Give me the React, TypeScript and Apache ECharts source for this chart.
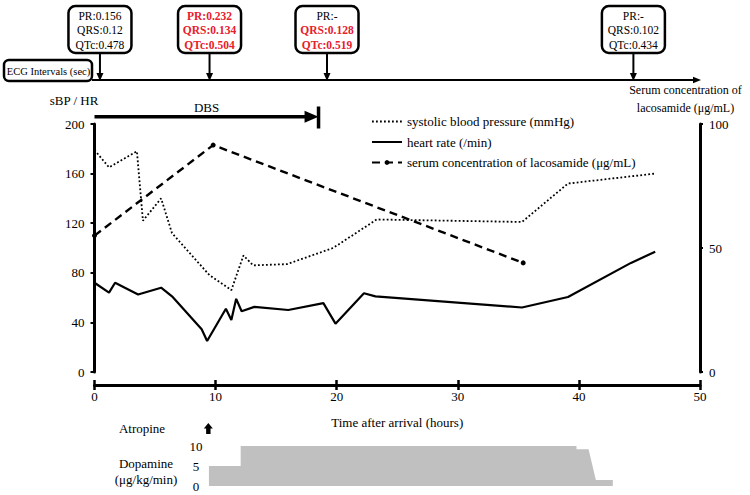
import React, { useEffect, useRef } from "react";
import * as echarts from "echarts";

// ---- data ----
const sbpHours = [0, 1.2, 3.5, 4.0, 5.5, 6.4, 9.5, 11.3, 12.3, 13.1, 15.9, 19.7, 23.3, 35.3, 39.1, 46.3];
const sbpValues = [179, 165, 178, 122, 140, 112, 78, 66, 94, 86, 87, 100, 123, 121, 152, 160];

const hrHours = [0, 1.2, 1.7, 3.6, 5.5, 6.4, 8.85, 9.3, 10.85, 11.3, 11.7, 12.15, 13.2, 16, 18.9, 19.9, 22.25, 23.2, 35.3, 39.1, 44.3, 46.3];
const hrValues = [72, 64, 72, 62.5, 68, 61, 34.5, 25, 51, 42, 59, 49, 52.5, 50, 55.5, 39, 63.5, 61, 52, 60.5, 88, 97];

const lcmHours = [0, 9.8, 35.4];
const lcmValues = [55, 91.5, 44];

const dopHours = [9.45, 12.07, 12.07, 39.8, 39.8, 40.8, 41.4, 42.8];
const dopValues = [5, 5, 10, 10, 9.2, 9.2, 1.5, 1.5];

const ecgHours = [0.45, 9.5, 19.2, 44.5];
const ecgPR = ["PR:0.156", "PR:0.232", "PR:-", "PR:-"];
const ecgQRS = ["QRS:0.12", "QRS:0.134", "QRS:0.128", "QRS:0.102"];
const ecgQTc = ["QTc:0.478", "QTc:0.504", "QTc:0.519", "QTc:0.434"];
const ecgPRRed = [false, true, false, false];
const ecgQRSRed = [false, true, true, false];
const ecgQTcRed = [false, true, true, false];

const dbsStart = 0;
const dbsEnd = 18.5;
const atropineHour = 9.4;

const xTicks = { min: 0, max: 50, interval: 10 };
const leftTicks = { min: 0, max: 200, interval: 40 };
const rightTicks = { min: 0, max: 100, interval: 50 };
const dopTicks = { min: 0, max: 10, interval: 5 };

const zip = (a: number[], b: number[]) => a.map((v, i) => [v, b[i]]);

const FONT = "'Liberation Serif', 'Times New Roman', 'DejaVu Serif', serif";
const RED = "#e8202a";

export default function App() {
  const ref = useRef<HTMLDivElement>(null);
  useEffect(() => {
    const el = ref.current!;
    const chart = echarts.init(el, null, { renderer: "svg" });
    const txt = { fontFamily: FONT, fontSize: 13, color: "#000" };
    const option: any = {
      animation: false,
      textStyle: { fontFamily: FONT },
      grid: [
        { left: 94.5, right: 50, top: 124, bottom: 123, outerBoundsMode: "none", containLabel: false },
        { left: 94.5, right: 50, top: 446, bottom: 9, outerBoundsMode: "none", containLabel: false },
      ],
      legend: {
        orient: "vertical",
        left: 366,
        top: 110,
        itemWidth: 30,
        itemHeight: 6,
        itemGap: 7.5,
        textStyle: { ...txt },
        data: [
          { name: "systolic blood pressure (mmHg)", itemStyle: { opacity: 0 } },
          { name: "heart rate (/min)", itemStyle: { opacity: 0 } },
          { name: "serum concentration of lacosamide (μg/mL)" },
        ],
      },
      xAxis: [
        {
          gridIndex: 0,
          type: "value",
          ...xTicks,
          position: "bottom",
          offset: 13,
          axisLine: { show: true, onZero: false, lineStyle: { color: "#000", width: 3 } },
          axisTick: { show: true, inside: false, length: 5, lineStyle: { color: "#000", width: 2.5 } },
          axisLabel: { ...txt, margin: 5 },
          splitLine: { show: false },
          name: "Time after arrival (hours)",
          nameLocation: "middle",
          nameGap: 31,
          nameTextStyle: { ...txt },
        },
        {
          gridIndex: 0,
          type: "value",
          ...xTicks,
          position: "bottom",
          offset: 13,
          axisLine: { show: false, onZero: false },
          axisTick: { show: true, inside: true, length: 5, lineStyle: { color: "#000", width: 2.5 } },
          axisLabel: { show: false },
          splitLine: { show: false },
        },
        {
          gridIndex: 1,
          type: "value",
          ...xTicks,
          show: false,
          splitLine: { show: false },
        },
      ],
      yAxis: [
        {
          gridIndex: 0,
          type: "value",
          ...leftTicks,
          position: "left",
          axisLine: { show: true, onZero: false, lineStyle: { color: "#000", width: 3 } },
          axisTick: { show: true, length: 4, lineStyle: { color: "#000", width: 2 } },
          axisLabel: { ...txt, margin: 10 },
          splitLine: { show: false },
          name: "sBP / HR",
          nameLocation: "end",
          nameGap: 17,
          nameTextStyle: { ...txt, align: "center", padding: [0, 41, 0, 0] },
        },
        {
          gridIndex: 0,
          type: "value",
          ...rightTicks,
          position: "right",
          axisLine: { show: true, onZero: false, lineStyle: { color: "#000", width: 3 } },
          axisTick: { show: true, length: 3, lineStyle: { color: "#000", width: 2 } },
          axisLabel: { ...txt, margin: 9 },
          splitLine: { show: false },
          name: "Serum concentration of\nlacosamide (μg/mL)",
          nameLocation: "end",
          nameGap: 7,
          nameTextStyle: { ...txt, fontSize: 12, align: "center", lineHeight: 18, padding: [0, 29, 0, 0] },
        },
        {
          gridIndex: 1,
          type: "value",
          ...dopTicks,
          position: "left",
          offset: -101.5,
          axisLine: { show: false },
          axisTick: { show: false },
          axisLabel: { ...txt, margin: 0, align: "center" },
          splitLine: { show: false },
        },
      ],
      series: [
        {
          name: "systolic blood pressure (mmHg)",
          type: "line",
          xAxisIndex: 0,
          yAxisIndex: 0,
          data: zip(sbpHours, sbpValues),
          symbol: "none",
          itemStyle: { color: "#000" },
          lineStyle: { color: "#000", width: 1.8, type: [1.8, 2.2] },
        },
        {
          name: "heart rate (/min)",
          type: "line",
          xAxisIndex: 0,
          yAxisIndex: 0,
          data: zip(hrHours, hrValues),
          symbol: "none",
          itemStyle: { color: "#000" },
          lineStyle: { color: "#000", width: 2.2 },
        },
        {
          name: "serum concentration of lacosamide (μg/mL)",
          type: "line",
          xAxisIndex: 0,
          yAxisIndex: 1,
          data: zip(lcmHours, lcmValues),
          symbol: "circle",
          symbolSize: 5,
          itemStyle: { color: "#000" },
          lineStyle: { color: "#000", width: 2.4, type: [8, 5] },
        },
        {
          name: "dopamine",
          type: "line",
          xAxisIndex: 2,
          yAxisIndex: 2,
          data: zip(dopHours, dopValues),
          symbol: "none",
          lineStyle: { width: 0 },
          itemStyle: { color: "#c0c0c0" },
          areaStyle: { color: "#c0c0c0", opacity: 1 },
        },
      ],
    };
    chart.setOption(option);

    const px = (t: number) => chart.convertToPixel({ xAxisIndex: 0 }, t) as number;
    const g: any[] = [];
    const tStyle = (s: string, size = 13, bold = false, fill = "#000") => ({
      text: s,
      font: `${bold ? "bold " : ""}${size}px ${FONT}`,
      fill,
      textAlign: "center",
      textVerticalAlign: "middle",
    });

    // ECG timeline
    const tlY = 80;
    g.push({ type: "line", shape: { x1: 92, y1: tlY, x2: 695, y2: tlY }, style: { stroke: "#000", lineWidth: 1.8 } });
    g.push({ type: "polygon", shape: { points: [[693, tlY - 3.2], [693, tlY + 3.2], [701, tlY]] }, style: { fill: "#000" } });
    g.push({
      type: "rect",
      shape: { x: 4, y: 60, width: 88, height: 21, r: 5 },
      style: { fill: "#fff", stroke: "#000", lineWidth: 2.5 },
    });
    g.push({ type: "text", x: 48.5, y: 71, style: tStyle("ECG Intervals (sec)", 10.5) });
    ecgHours.forEach((h, i) => {
      const cx = px(h);
      g.push({
        type: "rect",
        shape: { x: cx - 31.5, y: 6, width: 63, height: 47, r: 7 },
        style: { fill: "#fff", stroke: "#000", lineWidth: 2.5 },
      });
      const lines = [
        [ecgPR[i], ecgPRRed[i], 15.5],
        [ecgQRS[i], ecgQRSRed[i], 30],
        [ecgQTc[i], ecgQTcRed[i], 44.5],
      ] as [string, boolean, number][];
      lines.forEach(([s, red, y]) => {
        g.push({ type: "text", x: cx, y, style: tStyle(s, 11.5, red, red ? RED : "#000") });
      });
      g.push({ type: "line", shape: { x1: cx, y1: 53, x2: cx, y2: 74 }, style: { stroke: "#000", lineWidth: 2 } });
      g.push({ type: "polygon", shape: { points: [[cx - 3.5, 73], [cx + 3.5, 73], [cx, 81]] }, style: { fill: "#000" } });
    });

    // DBS arrow
    const dx0 = px(dbsStart);
    const dx1 = px(dbsEnd);
    const dY = 116.7;
    g.push({ type: "line", shape: { x1: dx0, y1: dY, x2: dx1 - 10, y2: dY }, style: { stroke: "#000", lineWidth: 3.5 } });
    g.push({ type: "polygon", shape: { points: [[dx1 - 14, dY - 6], [dx1 - 14, dY + 6], [dx1, dY]] }, style: { fill: "#000" } });
    g.push({ type: "line", shape: { x1: dx1, y1: 106.5, x2: dx1, y2: 128.5 }, style: { stroke: "#000", lineWidth: 3.5 } });
    g.push({ type: "text", x: (dx0 + dx1) / 2, y: 107.5, style: tStyle("DBS") });

    // Atropine
    const ax = px(atropineHour);
    g.push({
      type: "polygon",
      shape: {
        points: [[ax, 423], [ax + 4.5, 428.5], [ax + 2.2, 428.5], [ax + 2.2, 434], [ax - 2.2, 434], [ax - 2.2, 428.5], [ax - 4.5, 428.5]],
      },
      style: { fill: "#000" },
    });
    g.push({ type: "text", x: 142, y: 428.5, style: tStyle("Atropine") });
    g.push({ type: "text", x: 146, y: 463, style: tStyle("Dopamine") });
    g.push({ type: "text", x: 146, y: 479.5, style: tStyle("(μg/kg/min)") });

    chart.setOption({ graphic: g });
    return () => chart.dispose();
  }, []);
  return (
    <div
      ref={ref}
      style={{ position: "fixed", left: 0, top: 0, width: 750, height: 495, background: "#fff" }}
    />
  );
}
